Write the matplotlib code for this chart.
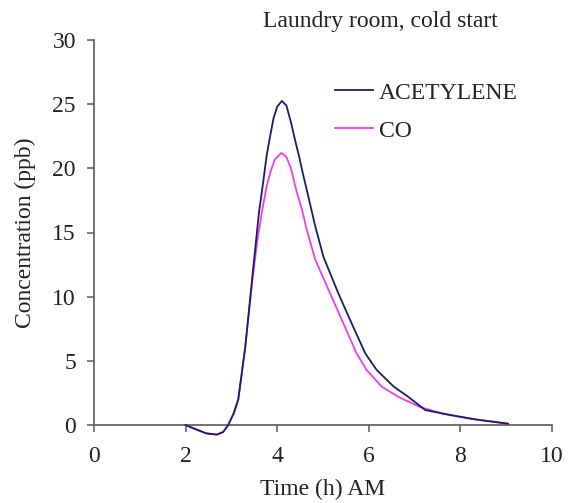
import matplotlib
matplotlib.use("Agg")
import matplotlib.pyplot as plt

# Data
acet_t = [2.0, 2.2, 2.45, 2.68, 2.82, 2.93, 3.05, 3.15, 3.3, 3.45, 3.6, 3.7, 3.77, 3.84, 3.92, 4.0,
          4.1, 4.2, 4.3, 4.39, 4.48, 4.56, 4.68, 4.83, 5.01, 5.33, 5.59, 5.92, 6.17, 6.54, 6.86,
          7.23, 7.77, 8.3, 9.04]
acet_v = [0.0, -0.3, -0.65, -0.75, -0.55, 0.0, 0.9, 2.0, 6.0, 11.3, 16.5, 19.1, 21.0, 22.4, 23.9, 24.8,
          25.25, 24.9, 23.6, 22.2, 20.9, 19.6, 17.8, 15.5, 13.1, 10.3, 8.2, 5.6, 4.3, 3.0, 2.2,
          1.17, 0.78, 0.45, 0.1]

co_t = [2.0, 2.2, 2.45, 2.68, 2.82, 2.93, 3.05, 3.15, 3.3, 3.45, 3.56, 3.66, 3.77, 3.86, 3.95, 4.09,
        4.2, 4.3, 4.43, 4.54, 4.64, 4.83, 5.15, 5.41, 5.73, 5.95, 6.28, 6.64, 7.12, 7.6, 8.3, 9.04]
co_v = [0.0, -0.3, -0.65, -0.75, -0.55, 0.0, 0.9, 2.0, 6.0, 11.0, 14.2, 16.5, 18.6, 19.8, 20.7, 21.2,
        20.9, 20.0, 18.1, 16.8, 15.3, 12.9, 10.3, 8.2, 5.6, 4.3, 3.0, 2.2, 1.4, 0.9, 0.45, 0.1]

x_ticks = [0, 2, 4, 6, 8, 10]
y_ticks = [0, 5, 10, 15, 20, 25, 30]

plt.rcParams['font.family'] = ['Liberation Serif', 'DejaVu Serif']
FS = 17
TXT = '#222222'
AX = '#666666'

fig = plt.figure(figsize=(5.71, 5.03), dpi=100)
ax = fig.add_axes([94/571, 1-425/503, (552-94)/571, (425-40)/503])

ax.plot(acet_t, acet_v, color='#1c1c6a', lw=1.3, label='ACETYLENE', clip_on=False, zorder=3)
ax.plot(co_t, co_v, color='#f03cf0', lw=1.3, label='CO', clip_on=False, zorder=2)

ax.set_xlim(0, 10)
ax.set_ylim(0, 30)
ax.set_xticks(x_ticks)
ax.set_yticks(y_ticks)
for s in ['top', 'right']:
    ax.spines[s].set_visible(False)
for s in ['left', 'bottom']:
    ax.spines[s].set_color(AX)
    ax.spines[s].set_linewidth(1.3)
    ax.spines[s].set_zorder(1)
ax.tick_params(direction='out', length=5, width=1.2, color=AX, labelsize=FS, labelcolor=TXT)
ax.tick_params(axis='x', pad=10)
ax.tick_params(axis='y', pad=8)

ax.set_xlabel('Time (h) AM', fontsize=FS, color=TXT, labelpad=9)
ax.set_ylabel('Concentration (ppb)', fontsize=FS, color=TXT, labelpad=12)
fig.text(380/571, 1-22/503, 'Laundry room, cold start', fontsize=FS, ha='center', va='center', color=TXT)

leg = ax.legend(loc='upper left', bbox_to_anchor=(335/571, 1-82/503), bbox_transform=fig.transFigure,
                frameon=False, fontsize=FS, handlelength=1.6, handletextpad=0.25, labelspacing=0.7,
                borderaxespad=0, borderpad=0)
for t in leg.get_texts():
    t.set_color(TXT)

fig.savefig('out.png', dpi=100)
